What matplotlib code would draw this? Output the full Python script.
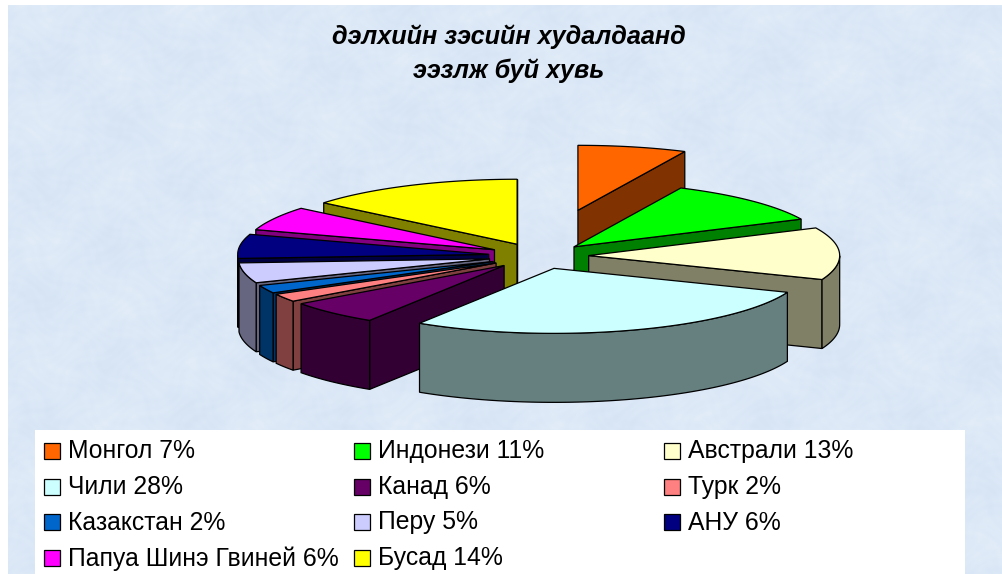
import numpy as np
import matplotlib
matplotlib.use("Agg")
import matplotlib.pyplot as plt
from matplotlib.patches import Polygon, Rectangle

plt.rcParams['font.family'] = ['Liberation Sans', 'DejaVu Sans']

# ---- data ----
categories = ["Монгол", "Индонези", "Австрали", "Чили", "Канад", "Турк",
              "Казакстан", "Перу", "АНУ", "Папуа Шинэ Гвиней", "Бусад"]
values = [7, 11, 13, 28, 6, 2, 2, 5, 6, 6, 14]
colors = ["#FF6600", "#00FF00", "#FFFFCC", "#CCFFFF", "#660066", "#FF8080",
          "#0066CC", "#CCCCFF", "#000080", "#FF00FF", "#FFFF00"]
explode = [0.72, 0.2, 0.2, 0.2, 0.2, 0.2, 0.2, 0.2, 0.2, 0.2, 0.2]
title = "дэлхийн зэсийн худалдаанд\nээзлж буй хувь"

# ---- projection of the tilted pie, in pixels ----
CX, CY, RX, RY, DEPTH = 538.5, 256.0, 251.0, 65.0, 69.0
draw_order = [0, 1, 2, 10, 9, 8, 7, 6, 5, 4, 3]

W, H = 1003, 574
fig = plt.figure(figsize=(W / 100, H / 100), dpi=100, facecolor="white")
ax = fig.add_axes([0, 0, 1, 1])
ax.set_xlim(0, W)
ax.set_ylim(H, 0)
ax.axis("off")

# soft mottled backdrop
yy, xx = np.mgrid[0:H - 5, 0:W - 8]
m = (np.sin(xx / 23.0) * np.cos(yy / 19.0)
     + 0.7 * np.sin(xx / 7.3 + np.sin(yy / 13.0) * 2.5) * np.sin(yy / 6.1 + np.cos(xx / 17.0) * 2.5)
     + 0.5 * np.sin(xx / 2.9 + 3 * np.sin(yy / 8.0)) * np.cos(yy / 2.3 + 3 * np.sin(xx / 9.0)))
base = np.array([0.862, 0.910, 0.966])
amp = np.array([0.012, 0.009, 0.004])
tex = np.clip(base[None, None, :] + m[..., None] * amp[None, None, :], 0, 1)
ax.imshow(tex, extent=(8, W, H, 5), aspect="auto", zorder=0, interpolation="bilinear")
ax.set_xlim(0, W)
ax.set_ylim(H, 0)

ax.add_patch(Rectangle((35, 430), 930, 144, facecolor="white", edgecolor="none", zorder=1))

ax.text(509, 53.5, title, ha="center", va="center", fontsize=18.2, fontweight="bold",
        fontstyle="italic", color="black", linespacing=1.5, zorder=5)

# ---- 3-D exploded pie ----
fractions = np.array(values, dtype=float) / sum(values)
edges = np.concatenate([[0.0], np.cumsum(fractions)]) * 2 * np.pi


def shade(hexcol):
    r, g, b = matplotlib.colors.to_rgb(hexcol)
    return (r * 0.5, g * 0.5, b * 0.5)


def face(pts, col, z):
    ax.add_patch(Polygon(pts, closed=True, facecolor=col, edgecolor="black",
                         linewidth=0.9, joinstyle="miter", zorder=z))


z = 2.0
for i in draw_order:
    t1, t2 = edges[i], edges[i + 1]
    mid = (t1 + t2) / 2
    ox = CX + explode[i] * RX * np.sin(mid)
    oy = CY - explode[i] * RY * np.cos(mid)
    th = np.linspace(t1, t2, max(8, int((t2 - t1) * 60)))
    arc = np.column_stack([ox + RX * np.sin(th), oy - RY * np.cos(th)])
    apex = np.array([ox, oy])
    down = np.array([0, DEPTH])
    dark = shade(colors[i])
    # radial cut faces that look towards the viewer
    if np.sin(t1) < 0:
        face([apex, arc[0], arc[0] + down, apex + down], dark, z)
        z += 0.001
    if np.sin(t2) > 0:
        face([apex, arc[-1], arc[-1] + down, apex + down], dark, z)
        z += 0.001
    # outer rim: the part on the near half of the pie
    front = arc[np.cos(th) <= 0]
    if len(front) > 1:
        face(np.vstack([front, (front + down)[::-1]]), dark, z)
        z += 0.001
    # top
    face(np.vstack([[apex], arc]), colors[i], z)
    z += 0.001

# ---- legend ----
col_x = [44, 354, 664]
row_y = [450.5, 486.5, 522, 558]
for k, (name, val, c) in enumerate(zip(categories, values, colors)):
    x = col_x[k % 3]
    y = row_y[k // 3]
    ax.add_patch(Rectangle((x, y - 8), 16, 16, facecolor=c, edgecolor="black",
                           linewidth=0.9, zorder=6))
    ax.text(x + 24, y + 0.5, f"{name} {val}%", ha="left", va="center", fontsize=17.85,
            color="black", zorder=6)

fig.savefig("out.png", dpi=100, facecolor="white")
